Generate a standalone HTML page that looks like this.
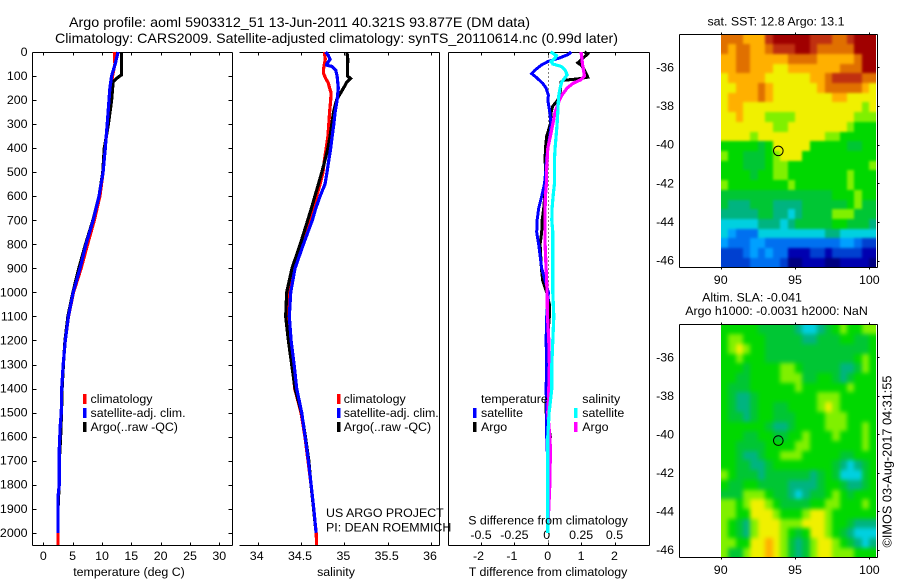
<!DOCTYPE html>
<html>
<head>
<meta charset="utf-8">
<title>Argo profile 5903312_51</title>
<style>
html,body{margin:0;padding:0;background:#fff;}
svg{display:block;font-family:"Liberation Sans",sans-serif;font-size:12.4px;fill:#000;}
text{fill:#000;}
</style>
</head>
<body>
<svg id="figure" width="900" height="580" viewBox="0 0 900 580" xmlns="http://www.w3.org/2000/svg">
<defs>
<filter id="sstBlur" filterUnits="userSpaceOnUse" x="690" y="10" width="210" height="280" color-interpolation-filters="sRGB"><feGaussianBlur stdDeviation="1.2"/></filter>
<filter id="slaBlur" filterUnits="userSpaceOnUse" x="690" y="300" width="210" height="280" color-interpolation-filters="sRGB"><feGaussianBlur stdDeviation="2.2"/></filter>
<clipPath id="sstClip"><rect x="721" y="35" width="155" height="232"/></clipPath>
<clipPath id="slaClip"><rect x="721" y="325" width="155" height="232"/></clipPath>
</defs>
<rect x="0" y="0" width="900" height="580" fill="#fff"/>
<text x="69" y="27" font-size="14" textLength="461" lengthAdjust="spacingAndGlyphs">Argo profile: aoml 5903312_51 13-Jun-2011 40.321S 93.877E (DM data)</text>
<text x="55" y="43" font-size="14" textLength="563" lengthAdjust="spacingAndGlyphs">Climatology: CARS2009. Satellite-adjusted climatology: synTS_20110614.nc (0.99d later)</text>
<g clip-path="url(#sstClip)"><g id="sstMap" filter="url(#sstBlur)"></g></g>
<g clip-path="url(#slaClip)"><g id="slaMap" filter="url(#slaBlur)"></g></g>
<g id="axes"></g>
<g id="lines"></g>
<g>
<rect x="83" y="394" width="3.5" height="10" fill="#f00"/>
<text x="90.5" y="403">climatology</text>
<rect x="83" y="408" width="3.5" height="10" fill="#00f"/>
<text x="90.5" y="417">satellite-adj. clim.</text>
<rect x="83" y="422" width="3.5" height="10" fill="#000"/>
<text x="90.5" y="431">Argo(..raw -QC)</text>
</g>
<g>
<rect x="337" y="394" width="3.5" height="10" fill="#f00"/>
<text x="343.7" y="403">climatology</text>
<rect x="337" y="408" width="3.5" height="10" fill="#00f"/>
<text x="343.7" y="417">satellite-adj. clim.</text>
<rect x="337" y="422" width="3.5" height="10" fill="#000"/>
<text x="343.7" y="431">Argo(..raw -QC)</text>
</g>
<g>
<text x="481" y="403">temperature</text>
<rect x="473" y="408" width="3.5" height="10" fill="#00f"/>
<text x="481" y="417">satellite</text>
<rect x="473" y="422" width="3.5" height="10" fill="#000"/>
<text x="481" y="431">Argo</text>
<text x="582.3" y="403">salinity</text>
<rect x="574" y="408" width="3.5" height="10" fill="#0ff"/>
<text x="582.3" y="417">satellite</text>
<rect x="574" y="422" width="3.5" height="10" fill="#f0f"/>
<text x="582.3" y="431">Argo</text>
</g>
<text x="326" y="517">US ARGO PROJECT</text>
<text x="326" y="531.5">PI: DEAN ROEMMICH</text>
<text x="129" y="576" text-anchor="middle">temperature (deg C)</text>
<text x="336" y="576" text-anchor="middle">salinity</text>
<text x="548" y="576" text-anchor="middle">T difference from climatology</text>
<text x="548" y="524.5" text-anchor="middle">S difference from climatology</text>
<text x="776" y="25.5" text-anchor="middle">sat. SST: 12.8 Argo: 13.1</text>
<text x="752" y="301.5" text-anchor="middle">Altim. SLA: -0.041</text>
<text x="776.5" y="315" text-anchor="middle">Argo h1000: -0.0031 h2000: NaN</text>
<text transform="translate(891.5,547.5) rotate(-90)" font-size="13" textLength="172" lengthAdjust="spacingAndGlyphs">©IMOS 03-Aug-2017 04:31:55</text>
</svg>
<script>
// ---- axis tick labels ----
var depthTicks = [0,100,200,300,400,500,600,700,800,900,1000,1100,1200,1300,1400,1500,1600,1700,1800,1900,2000];
var tempTicks = [0,5,10,15,20,25,30];
var salTicks = [34,34.5,35,35.5,36];
var tDiffTicks = [-2,-1,0,1,2];
var sDiffTicks = [-0.5,-0.25,0,0.25,0.5];
var lonTicks = [90,95,100];
var latTicks = [-36,-38,-40,-42,-44,-46];

// ---- temperature panel ----
var tempClimDepth = [0,50,100,150,200,300,400,500,600,700,800,900,1000,1100,1200,1300,1400,1500,1600,1700,1800,1900,2000,2050];
var tempClim = [12.1,12.2,11.8,11.5,11.2,10.95,10.55,10.2,9.65,8.7,7.55,6.45,5.15,4.3,3.75,3.4,3.15,3.12,2.9,2.72,2.7,2.5,2.5,2.5];
var tempArgoDepth = [0,95,110,125,200,300,400,500,600,700,800,900,1000,1100,1200,1300,1400,1500,1600,1700,1800,1900,1990];
var tempArgo = [13.35,13.35,12.5,11.9,11.65,11.1,10.4,10.15,9.5,8.45,7.2,6.05,5.05,4.2,3.7,3.42,3.2,3.1,2.95,2.73,2.7,2.5,2.5];
var tempSatDepth = [0,50,100,150,200,300,400,500,600,700,800,900,1000,1100,1200,1300,1400,1500,1550,1650,1800,1850,2000];
var tempSat = [12.75,12.25,11.65,11.35,11.2,10.9,10.56,10.2,9.5,8.5,7.27,6.25,5.1,4.27,3.75,3.4,3.13,3.07,2.9,2.73,2.73,2.5,2.5];

// ---- salinity panel ----
var salClimDepth = [0,30,50,70,90,110,130,150,170,200,250,300,350,400,450,500,550,600,650,700,800,900,1000,1100,1200,1300,1400,1500,1600,1700,1800,1900,2000,2050];
var salClim = [34.77,34.78,34.77,34.76,34.76,34.785,34.816,34.83,34.847,34.843,34.83,34.82,34.81,34.79,34.77,34.754,34.72,34.68,34.64,34.604,34.515,34.42,34.35,34.345,34.365,34.40,34.427,34.50,34.545,34.58,34.615,34.645,34.675,34.68];
var salArgoDepth = [0,30,75,100,110,125,150,180,200,250,300,350,400,450,500,550,600,650,700,800,900,1000,1100,1200,1300,1400,1500,1600,1700,1800,1900,1990];
var salArgo = [35.03,35.04,35.035,35.035,35.07,35.03,34.99,34.94,34.91,34.875,34.855,34.835,34.81,34.777,34.74,34.70,34.66,34.62,34.577,34.49,34.396,34.335,34.323,34.354,34.392,34.43,34.505,34.55,34.59,34.615,34.645,34.67];
var salSatDepth = [0,15,30,50,55,60,75,100,150,200,250,300,350,400,450,500,550,600,650,700,800,900,1000,1100,1200,1300,1400,1500,1600,1700,1800,1900,2000];
var salSat = [34.785,34.816,34.835,34.797,34.797,34.855,34.90,34.916,34.93,34.916,34.893,34.878,34.86,34.843,34.82,34.80,34.777,34.72,34.67,34.63,34.527,34.431,34.381,34.365,34.385,34.42,34.45,34.508,34.547,34.585,34.616,34.647,34.674];

// ---- difference panel ----
var dtSatDepth = [0,10,25,40,55,75,90,105,130,150,180,200,250,300,350,400,450,500,550,600,650,700,750,800,900,1000,1100,1200,1300,1400,1500,1600,1650,1700,2000];
var dtSat = [0.7,0.62,0.35,0,-0.2,-0.38,-0.48,-0.35,-0.15,-0.05,0.02,0,0.06,0.1,0.06,0,-0.04,-0.06,-0.1,-0.18,-0.27,-0.32,-0.33,-0.27,-0.18,0.02,-0.03,-0.05,-0.03,-0.05,-0.03,-0.03,-0.02,0,0];
var dtArgoDepth = [0,8,20,30,45,55,70,90,105,112,118,125,170,200,225,250,300,350,400,450,500,550,600,650,700,750,800,900,950,1000,1050,1100,1200,1300,1400,1500,1600,1700,1990];
var dtArgo = [1.1,1.2,1.1,1.02,0.9,1.0,1.08,1.15,1.2,0.9,0.45,0.4,0.37,0.3,0.15,0.1,0.08,-0.03,-0.07,-0.08,-0.06,-0.07,-0.09,-0.12,-0.17,-0.18,-0.23,-0.19,-0.15,-0.03,0.05,0.05,-0.01,-0.02,-0.04,-0.05,0.08,0,0];
var dsArgoDepth = [0,50,100,115,130,150,180,200,250,300,350,400,450,500,550,600,650,700,800,900,1000,1100,1200,1300,1400,1500,1600,1650,1800,1990];
var dsArgo = [0.25,0.26,0.275,0.25,0.19,0.145,0.105,0.0875,0.055,0.0375,0.02,0,-0.005,-0.01,-0.01,-0.0175,-0.02,-0.02,-0.02,-0.0125,-0.005,-0.002,0.0075,0.0125,0.0075,0,0.015,0.02,0.015,0];
var dsSatDepth = [0,5,15,25,40,50,60,75,95,110,125,150,180,200,250,300,350,400,450,500,550,600,650,700,750,900,1000,1100,1200,1300,1400,1500,1600,2000];
var dsSat = [0.02,0.037,0.065,0.055,0.025,0.037,0.1,0.13,0.145,0.125,0.105,0.0925,0.0825,0.08,0.075,0.07,0.0625,0.055,0.05,0.05,0.05,0.04,0.0325,0.03,0.0375,0.0375,0.0375,0.045,0.0375,0.03,0.03,0.01,0,0];

// ---- satellite maps (colour level per 0.5 degree cell, north to south) ----
var sstLevels = [
[12,12,12,11,11,11,13,14,14,14,14,14,13,13,13,12,12,13,14,14,14],
[12,11,12,12,11,11,12,13,13,13,14,14,13,12,12,12,12,12,14,14,14],
[11,11,12,12,11,11,11,11,11,12,12,12,12,11,11,11,11,11,12,14,14],
[11,11,12,12,11,11,11,10,10,11,11,11,11,11,11,11,12,12,12,14,14],
[10,11,11,11,11,11,10,10,10,10,10,10,11,11,12,13,13,13,13,12,12],
[10,10,11,11,11,12,11,10,10,10,10,10,10,11,12,12,12,12,12,11,10],
[10,11,11,11,11,12,11,10,10,10,10,10,10,10,10,11,11,10,10,10,10],
[10,11,11,10,10,10,10,10,10,10,10,10,10,10,10,10,10,10,10,9,10],
[10,10,11,10,10,10,9,9,9,9,10,10,10,10,10,10,10,10,9,9,9],
[10,10,10,10,10,10,10,9,9,10,10,10,10,10,10,10,10,9,8,8,8],
[10,10,10,10,9,10,10,10,10,10,10,10,10,10,9,9,8,8,8,8,8],
[8,8,8,8,8,7,8,10,10,10,10,10,8,8,8,8,8,7,7,8,8],
[9,8,8,7,7,7,8,9,10,10,10,8,8,8,8,8,8,8,8,8,8],
[8,8,8,7,7,7,8,9,9,8,8,8,8,8,8,8,8,8,8,8,9],
[8,8,8,8,7,8,8,9,9,8,8,8,8,8,8,8,8,9,8,8,8],
[9,8,8,8,8,8,8,8,8,9,8,8,8,8,8,8,8,9,8,8,8],
[7,7,7,7,7,7,7,7,7,7,7,7,7,7,7,8,8,8,9,8,8],
[7,6,6,6,7,7,7,6,6,6,6,7,7,7,7,7,7,8,9,7,7],
[6,6,6,6,6,7,7,6,6,5,6,7,7,7,7,9,9,9,7,7,7],
[5,5,5,5,5,6,6,6,5,6,7,7,7,7,7,8,8,7,7,7,6],
[5,4,3,3,3,5,5,5,5,5,5,5,5,5,6,6,5,5,5,5,5],
[4,3,3,3,4,4,3,3,3,3,3,3,3,3,3,3,4,4,3,2,2],
[2,2,2,3,4,3,4,3,3,1,1,1,2,2,1,2,2,2,2,1,1],
[2,2,2,2,3,3,3,3,2,0,0,1,1,1,0,0,1,1,1,1,0]
];
var slaLevels = [
[8,8,8,8,8,7,7,7,7,7,6,5,5,6,7,8,9,8,8,9,9],
[8,9,9,8,8,8,7,7,7,7,7,6,6,7,7,7,8,8,7,7,8],
[8,9,10,9,8,8,7,7,7,7,7,7,7,7,7,7,7,7,7,7,8],
[8,8,9,8,8,8,7,7,7,7,7,7,7,7,7,7,7,7,8,9,8],
[8,8,8,7,8,8,8,8,9,9,8,7,7,7,7,7,6,6,7,9,8],
[8,8,7,7,8,8,8,8,9,9,9,7,7,8,8,7,6,7,8,8,8],
[8,7,7,7,8,8,8,8,8,8,9,8,8,8,8,8,8,9,8,8,8],
[8,7,6,6,7,8,8,8,8,8,8,8,8,9,9,9,8,8,8,8,8],
[8,7,6,6,7,8,8,7,7,8,8,8,8,9,10,9,8,8,8,8,8],
[8,7,7,6,7,8,8,7,7,7,8,8,8,8,9,9,9,8,8,8,8],
[8,8,8,8,8,8,7,6,6,7,8,8,8,8,9,9,9,8,8,9,8],
[8,8,8,7,7,8,8,7,7,8,8,9,8,8,8,9,8,8,8,9,8],
[8,8,7,7,7,7,8,8,8,8,9,9,8,8,8,8,8,8,8,9,8],
[8,8,7,6,6,7,8,8,9,9,9,8,8,8,8,8,7,7,8,8,8],
[8,8,7,7,6,6,7,8,8,8,8,8,8,8,8,7,6,5,6,7,8],
[9,8,7,7,7,6,7,7,7,7,7,7,6,7,8,7,5,5,5,7,8],
[8,7,7,8,8,7,7,7,7,6,6,6,6,7,8,8,7,6,6,7,8],
[7,7,7,9,9,9,8,7,7,6,5,6,7,7,8,9,8,7,8,8,8],
[9,9,8,9,10,10,9,8,7,7,7,7,8,8,9,9,8,8,8,9,8],
[9,9,8,8,10,10,10,9,8,8,8,9,10,10,9,8,8,8,8,8,8],
[9,8,7,6,9,10,10,10,9,9,9,10,10,10,9,8,8,7,6,6,6],
[9,8,7,6,9,10,10,10,9,8,7,8,10,10,9,8,7,6,5,5,5],
[9,9,8,8,10,10,11,10,9,7,6,7,9,10,10,9,8,7,6,5,6],
[9,7,7,9,10,10,11,10,9,7,6,7,9,10,10,9,9,9,8,8,8]
];
var levelColours = ['#000080','#0000b0','#0040d0','#0070f0','#00a0ff','#00d0e0','#00b480','#00c634','#00d800','#80f000','#f0f000','#ffb000','#e07000','#c03010','#a00000'];
var argoLon = 93.877;
var argoLat = -40.321;

var NS = 'http://www.w3.org/2000/svg';
var axesLayer = document.getElementById('axes');
var linesLayer = document.getElementById('lines');

function mk(tag, attrs, parent) {
  var el = document.createElementNS(NS, tag);
  for (var k in attrs) el.setAttribute(k, attrs[k]);
  parent.appendChild(el);
  return el;
}
function linear(d0, d1, r0, r1) {
  return function (v) { return r0 + (v - d0) * (r1 - r0) / (d1 - d0); };
}
function rule(x1, y1, x2, y2, name) {
  var el = mk('line', {x1: x1, y1: y1, x2: x2, y2: y2, stroke: '#000', 'stroke-width': 1, 'shape-rendering': 'crispEdges'}, axesLayer);
  
  
  return el;
}
function label(x, y, str, anchor, name) {
  var el = mk('text', {x: x, y: y, 'text-anchor': anchor}, axesLayer);
  el.textContent = str;
  
  
  return el;
}

var depthY = linear(0, 2000, 52, 532.8);
var tempX = linear(0, 30, 43.3, 219.3);
var salX = linear(34, 36, 257.7, 431);
var tDiffX = linear(-2, 2, 481, 614.5);
var sDiffX = linear(-0.5, 0.5, 481, 614.5);
var lonX = linear(90, 100, 720.7, 869.3);
var sstLatY = linear(-36, -46, 67.3, 260.7);
var slaLatY = linear(-36, -46, 357.3, 550);

var TOP = 52.5, BOT = 545.5;

function frame(left, right, top, bot, hasLeft, name) {
  rule(left, top, right, top, name + '-top-edge');
  rule(left, bot, right, bot, name + '-bottom-edge');
  rule(right, top, right, bot, name + '-right-edge');
  if (hasLeft) rule(left, top, left, bot, name + '-left-edge');
}
function xTicks(ticks, scale, name) {
  ticks.forEach(function (t) {
    var x = Math.round(scale(t)) + 0.5;
    rule(x, TOP, x, TOP + 3, name + '-top-tick');
    rule(x, BOT - 3, x, BOT, name + '-bottom-tick');
  });
}

// temperature panel axes
frame(32.5, 232.5, TOP, BOT, true, 'temperature-panel');
xTicks(tempTicks, tempX, 'temperature');
tempTicks.forEach(function (t) { label(tempX(t), 560, String(t), 'middle', 'temperature-tick-label'); });
depthTicks.forEach(function (d) {
  var y = Math.round(depthY(d)) + 0.5;
  rule(32.5, y, 36.5, y, 'depth-left-tick');
  rule(228.5, y, 232.5, y, 'depth-right-tick');
  label(27.5, depthY(d) + 4, String(d), 'end', 'depth-tick-label');
});

// salinity panel axes
frame(239.5, 439.5, TOP, BOT, false, 'salinity-panel');
xTicks(salTicks, salX, 'salinity');
salTicks.forEach(function (t) { label(salX(t) - 1, 560, String(t), 'middle', 'salinity-tick-label'); });

// difference panel axes
frame(448.5, 649.5, TOP, BOT, true, 'difference-panel');
xTicks(tDiffTicks, tDiffX, 'difference');
tDiffTicks.forEach(function (t) { label(tDiffX(t) - (t < 0 ? 2.5 : 0), 560, String(t), 'middle', 't-difference-tick-label'); });
sDiffTicks.forEach(function (t) { label(sDiffX(t) - (t === 0 ? 1 : 0), 539, String(t), 'middle', 's-difference-tick-label'); });
var zeroX = Math.round(tDiffX(0)) + 0.5;
var zeroLine = mk('line', {x1: zeroX, y1: TOP, x2: zeroX, y2: BOT, stroke: '#000', 'stroke-width': 1, 'stroke-dasharray': '1 3', 'shape-rendering': 'crispEdges'}, axesLayer);



// profile series
function profile(depths, values, xScale, colour, width, name) {
  var pts = values.map(function (v, i) { return xScale(v).toFixed(1) + ',' + depthY(depths[i]).toFixed(1); }).join(' ');
  var el = mk('polyline', {points: pts, fill: 'none', stroke: colour, 'stroke-width': width, 'stroke-linejoin': 'miter', 'shape-rendering': 'crispEdges'}, linesLayer);
  
  
}
profile(tempClimDepth, tempClim, tempX, '#f00', 3.2, 'temperature-climatology-line');
profile(tempArgoDepth, tempArgo, tempX, '#000', 3.2, 'temperature-argo-line');
profile(tempSatDepth, tempSat, tempX, '#00f', 3.2, 'temperature-satellite-line');
profile(salClimDepth, salClim, salX, '#f00', 3.2, 'salinity-climatology-line');
profile(salArgoDepth, salArgo, salX, '#000', 3.2, 'salinity-argo-line');
profile(salSatDepth, salSat, salX, '#00f', 3.2, 'salinity-satellite-line');
profile(dtArgoDepth, dtArgo, tDiffX, '#000', 3, 't-difference-argo-line');
profile(dtSatDepth, dtSat, tDiffX, '#00f', 3, 't-difference-satellite-line');
profile(dsArgoDepth, dsArgo, sDiffX, '#f0f', 3.2, 's-difference-argo-line');
profile(dsSatDepth, dsSat, sDiffX, '#0ff', 3.2, 's-difference-satellite-line');

// maps: edge cells overhang the clip so the smoothing does not fade at the border
function drawMap(levels, layerId, top, bot, name) {
  var layer = document.getElementById(layerId);
  var nRows = levels.length;
  var left = lonX(90);
  var cellW = lonX(90.5) - lonX(90);
  var cellH = (bot - top) / nRows;
  levels.forEach(function (row, r) {
    row.forEach(function (lv, c) {
      var x0 = Math.round(left + c * cellW) - (c === 0 ? 12 : 0);
      var x1 = Math.round(left + (c + 1) * cellW) + (c === row.length - 1 ? 12 : 0);
      var y0 = Math.round(top + r * cellH) - (r === 0 ? 12 : 0);
      var y1 = Math.round(top + (r + 1) * cellH) + (r === nRows - 1 ? 12 : 0);
      var cell = mk('rect', {x: x0, y: y0, width: x1 - x0, height: y1 - y0, fill: levelColours[lv], 'shape-rendering': 'crispEdges'}, layer);
      
      
    });
  });
}
drawMap(sstLevels, 'sstMap', 34.5, 267.5, 'sst-map');
drawMap(slaLevels, 'slaMap', 324.5, 557.5, 'sla-map');

function mapAxes(latY, top, bot, name, lonLabelY) {
  var L = 679.5, R = 877.5;
  frame(L, R, top, bot, true, name);
  lonTicks.forEach(function (lon) {
    var x = Math.round(lonX(lon)) + 0.5;
    rule(x, top - 2, x, top, name + '-top-tick');
    rule(x, bot, x, bot + 2, name + '-bottom-tick');
    label(lonX(lon), lonLabelY, String(lon), 'middle', name + '-longitude-label');
  });
  latTicks.forEach(function (lat) {
    var y = Math.round(latY(lat)) + 0.5;
    rule(R, y, R + 2, y, name + '-right-tick');
    label(674, latY(lat) + 4, String(lat), 'end', name + '-latitude-label');
  });
  var marker = mk('circle', {cx: lonX(argoLon), cy: latY(argoLat), r: 4.8, fill: 'none', stroke: '#000', 'stroke-width': 1}, axesLayer);
  
  
}
mapAxes(sstLatY, 34.5, 267.5, 'sst-map', 284);
mapAxes(slaLatY, 324.5, 557.5, 'sla-map', 574);
</script>
</body>
</html>
